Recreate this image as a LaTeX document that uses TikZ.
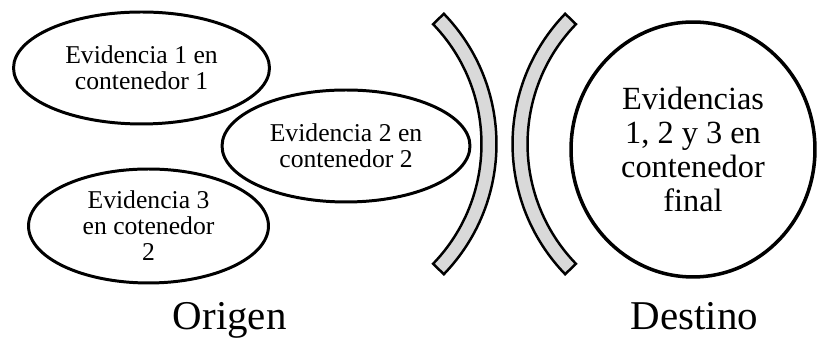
\documentclass[tikz,border=0pt]{standalone}
\usepackage{fontspec}
\setmainfont{Liberation Serif}
\usetikzlibrary{shapes.geometric,calc}

\tikzset{
  evid/.style={ellipse,draw,line width=1.7pt,inner sep=0pt,align=center,
    font=\fontsize{14.6}{14.8}\selectfont},
  lente/.style={draw,line width=1.4pt,fill=gray!30,line join=miter},
  rotulo/.style={anchor=base,font=\fontsize{23.3}{28}\selectfont}
}

\begin{document}
\begin{tikzpicture}[x=0.02cm,y=0.02cm]
    \useasboundingbox (0,0) rectangle (817,340);
    % origen
    \node[evid,minimum width=5.12cm,minimum height=2.24cm] (ev1) at (141.5,272) {Evidencia 1 en\\contenedor 1};
    \node[evid,minimum width=4.96cm,minimum height=2.24cm] (ev2) at (346,194) {Evidencia 2 en\\contenedor 2};
    \node[evid,minimum width=4.8cm,minimum height=2.28cm] (ev3) at (148.5,114) {Evidencia 3\\en cotenedor\\2};
    % destino
    \node[ellipse,draw,line width=2pt,inner sep=0pt,minimum width=4.88cm,minimum height=5.1cm,align=center,
      font=\fontsize{18.4}{19.3}\selectfont] (final) at (693,190.5) {Evidencias\\1, 2 y 3 en\\contenedor\\final};
    % lentes
    \coordinate (ci) at (309,196);
    \coordinate (cd) at (700,196);
    \draw[lente] ($(ci)+(-44:3.45cm)$) arc[start angle=-44,end angle=44,radius=3.45cm]
      -- ($(ci)+(44:3.75cm)$) arc[start angle=44,end angle=-44,radius=3.75cm] -- cycle;
    \draw[lente] ($(cd)+(136:3.45cm)$) arc[start angle=136,end angle=224,radius=3.45cm]
      -- ($(cd)+(224:3.75cm)$) arc[start angle=224,end angle=136,radius=3.75cm] -- cycle;
    % rotulos
    \node[rotulo] (origen) at (229.7,10) {Origen};
    \node[rotulo] (destino) at (694.4,10) {Destino};
\end{tikzpicture}
\end{document}
